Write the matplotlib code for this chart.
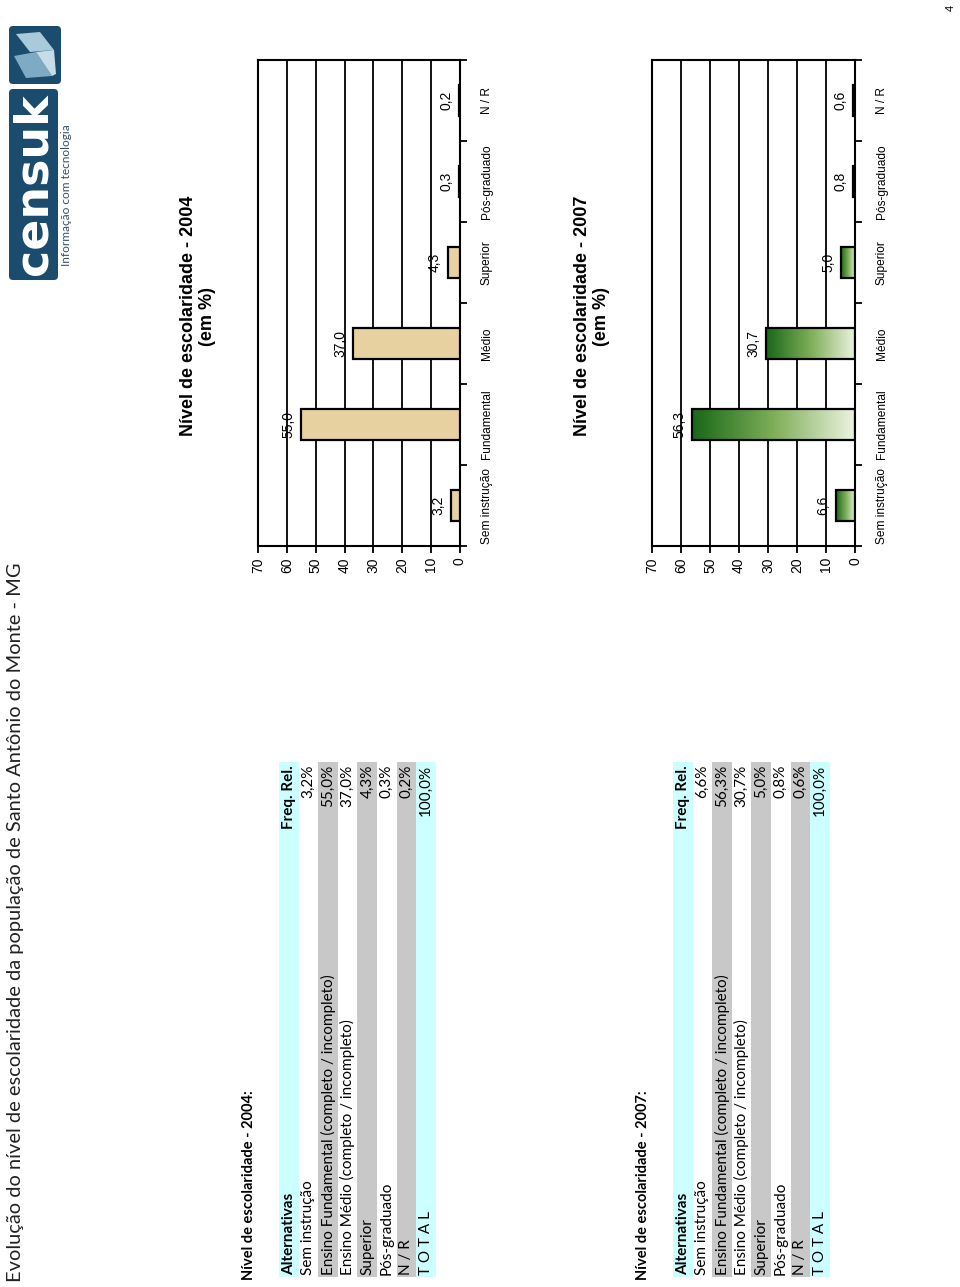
import numpy as np
import matplotlib.pyplot as plt
from matplotlib.patches import Rectangle, FancyBboxPatch, Polygon
from matplotlib.colors import LinearSegmentedColormap

W, H = 960, 1287

PAGE_TITLE = "Evolução do nível de escolaridade da população de Santo Antônio do Monte - MG"
CATEGORIES = ["Sem instrução", "Fundamental", "Médio", "Superior", "Pós-graduado", "N / R"]
TABLE_ROWS = ["Sem instrução", "Ensino Fundamental (completo / incompleto)",
              "Ensino Médio (completo / incompleto)", "Superior", "Pós-graduado", "N / R"]
VALUES_2004 = [3.2, 55.0, 37.0, 4.3, 0.3, 0.2]
VALUES_2007 = [6.6, 56.3, 30.7, 5.0, 0.8, 0.6]
TOTAL_VALUE = 100.0
VALUE_TICKS = [0, 10, 20, 30, 40, 50, 60, 70]

CYAN = "#ccffff"
GRAY = "#c8c8c8"
NAVY = "#1b4c6e"
TABLE_FONT = "Lato"
CHART_FONT = "Liberation Sans"


def br(v, suffix=""):
    return f"{v:.1f}".replace(".", ",") + suffix


fig = plt.figure(figsize=(W / 100, H / 100), dpi=100)
page = fig.add_axes([0, 0, 1, 1])
page.set_xlim(0, W)
page.set_ylim(H, 0)
page.axis("off")


def px_axes(x0, y0, x1, y1):
    return fig.add_axes([x0 / W, 1 - y1 / H, (x1 - x0) / W, (y1 - y0) / H])


# --- header: page title, logo, page number ---------------------------------
page.text(16, 1282, PAGE_TITLE, rotation=90, ha="center", va="bottom",
          fontsize=14.4, family=TABLE_FONT, color="#222222")
page.text(951, 8, "4", rotation=90, ha="center", va="center", fontsize=8,
          family=CHART_FONT)

page.add_patch(FancyBboxPatch((9, 26), 52, 58, boxstyle="round,pad=0,rounding_size=4",
                              color=NAVY, lw=0))
page.add_patch(Polygon([(16, 34), (40, 32), (54, 50), (30, 52)], color="#a9cadb", lw=0))
page.add_patch(Polygon([(14, 56), (36, 52), (52, 76), (26, 78)], color="#7eabc3", lw=0))
page.add_patch(Polygon([(36, 52), (54, 50), (56, 74), (52, 76)], color="#c6dde8", lw=0))
page.add_patch(FancyBboxPatch((9, 89), 49, 191, boxstyle="round,pad=0,rounding_size=4",
                              color=NAVY, lw=0))
page.text(34, 184, "censuk", rotation=90, ha="center", va="center", color="white",
          fontsize=33, fontweight="heavy", family="DejaVu Sans")
page.text(67, 195, "Informação com tecnologia", rotation=90, ha="center", va="center",
          fontsize=8.6, family=TABLE_FONT, color="#3a4f60")


# --- tables ----------------------------------------------------------------
def draw_table(x0, year, values):
    step = 19.6
    y_top, y_bot = 762, 1277
    page.text(x0 - 30, 1280, f"Nível de escolaridade - {year}:", rotation=90,
              ha="center", va="bottom", fontsize=10.5, fontweight="bold", family=TABLE_FONT)
    rows = [("Alternativas", "Freq. Rel.")]
    rows += [(name, br(v, "%")) for name, v in zip(TABLE_ROWS, values)]
    rows += [("T O T A L", br(TOTAL_VALUE, "%"))]
    fills = [CYAN, "white", GRAY, "white", GRAY, "white", GRAY, CYAN]
    for i, ((left, right), fill) in enumerate(zip(rows, fills)):
        xl = x0 + i * step
        page.add_patch(Rectangle((xl, y_top), step, y_bot - y_top, color=fill, lw=0))
        weight = "bold" if i == 0 else "normal"
        xc = xl + step / 2
        page.text(xc, y_bot - 2, left, rotation=90, ha="center", va="bottom",
                  fontsize=11, fontweight=weight, family=TABLE_FONT)
        page.text(xc, y_top + 3, right, rotation=90, ha="center", va="top",
                  fontsize=11, fontweight=weight, family=TABLE_FONT)


draw_table(279, 2004, VALUES_2004)
draw_table(673, 2007, VALUES_2007)


# --- charts ----------------------------------------------------------------
GREEN_CMAP = LinearSegmentedColormap.from_list("g", ["#186818", "#7fae58", "#eef4e2"])


def draw_chart(ax, values, year, style):
    pos = np.arange(len(values))
    bar_h = 0.38
    for v in VALUE_TICKS[1:-1]:
        ax.axvline(v, color="black", lw=1.3, zorder=1)
    if style == "tan":
        ax.barh(pos, values, height=bar_h, color="#e8d1a0", edgecolor="black",
                lw=1.6, zorder=3)
    else:
        grad = np.linspace(0, 1, 256).reshape(1, -1)
        for p, v in zip(pos, values):
            ax.imshow(grad, extent=(v, 0, p - bar_h / 2, p + bar_h / 2), cmap=GREEN_CMAP,
                      aspect="auto", zorder=2)
        ax.barh(pos, values, height=bar_h, facecolor="none", edgecolor="black",
                lw=1.6, zorder=3)
    for p, v in zip(pos, values):
        ax.annotate(br(v), xy=(v, p), xytext=(-4, 0), textcoords="offset points",
                    rotation=90, ha="right", va="center", fontsize=10, family=CHART_FONT)
    ax.set_xlim(70, 0)
    ax.set_ylim(-0.5, len(values) - 0.5)
    ax.set_xticks(VALUE_TICKS)
    ax.set_xticklabels([str(t) for t in VALUE_TICKS], rotation=90, family=CHART_FONT)
    ax.tick_params(axis="x", direction="out", length=5, width=1.3, pad=3, labelsize=10)
    ax.yaxis.tick_right()
    ax.set_yticks(pos)
    ax.set_yticklabels(CATEGORIES, rotation=90, va="center", family=CHART_FONT)
    ax.set_yticks(np.arange(-0.5, len(values), 1), minor=True)
    ax.tick_params(axis="y", which="major", length=0, pad=15, labelsize=8.6)
    ax.tick_params(axis="y", which="minor", direction="out", length=5, width=1.3)
    for s in ax.spines.values():
        s.set_linewidth(1.5)
        s.set_color("black")
    page.text(ax.get_position().x0 * W - 60, 316,
              f"Nível de escolaridade - {year}\n(em %)", rotation=90, ha="center",
              va="center", multialignment="center", fontsize=13, fontweight="bold",
              family=CHART_FONT, linespacing=1.2)


ax04 = px_axes(258, 60, 460, 546)
draw_chart(ax04, VALUES_2004, 2004, "tan")
ax07 = px_axes(652, 60, 855, 546)
draw_chart(ax07, VALUES_2007, 2007, "green")

fig.savefig("out.png", dpi=100)
